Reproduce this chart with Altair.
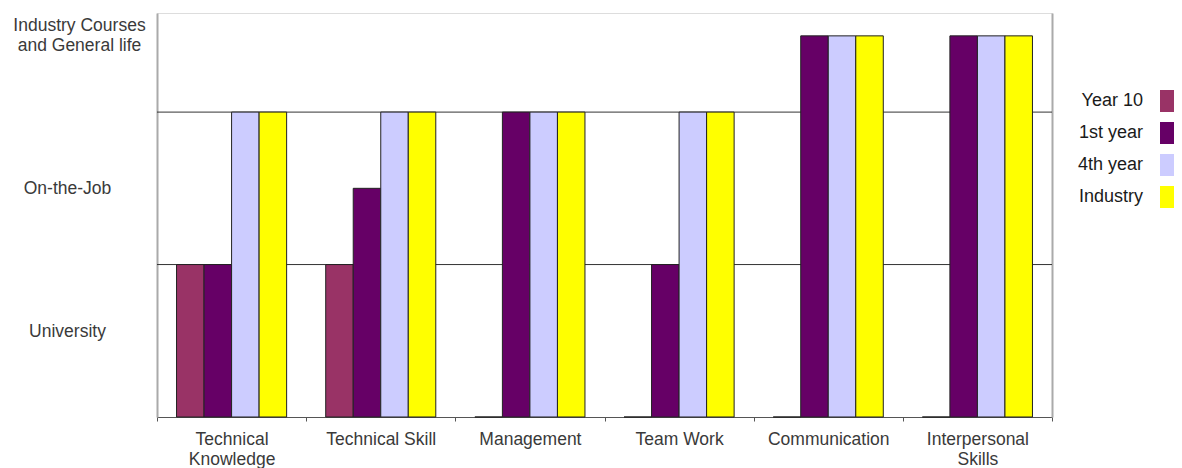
import altair as alt
import pandas as pd

categories = ["Technical Knowledge", "Technical Skill", "Management",
              "Team Work", "Communication", "Interpersonal Skills"]
category_lines = [["Technical", "Knowledge"], ["Technical Skill"], ["Management"],
                  ["Team Work"], ["Communication"], ["Interpersonal", "Skills"]]
series = ["Year 10", "1st year", "4th year", "Industry"]
year10 = [1, 1, 0, 0, 0, 0]
first_year = [1, 1.5, 2, 1, 2.5, 2.5]
fourth_year = [2, 2, 2, 2, 2.5, 2.5]
industry = [2, 2, 2, 2, 2.5, 2.5]
colors = ["#993366", "#660066", "#CCCCFF", "#FFFF00"]
level_labels = [["University"], ["On-the-Job"], ["Industry Courses", "and General life"]]
level_positions = [0.564, 1.5, 2.57]
grid_levels = [1, 2]
y_max = 2.65

rows = []
for s, vals in zip(series, [year10, first_year, fourth_year, industry]):
    for c, v in zip(categories, vals):
        rows.append({"category": c, "series": s, "value": v})
df = pd.DataFrame(rows)
grid_df = pd.DataFrame({"level": grid_levels})


def arr(lines):
    return "[" + ",".join("'" + t + "'" for t in lines) + "]"


x_expr = ""
for c, ln in zip(categories, category_lines):
    x_expr += f"datum.label == '{c}' ? {arr(ln)} : "
x_expr += "''"

y_expr = (f"datum.value < 1 ? {arr(level_labels[0])} : "
          f"datum.value < 2 ? {arr(level_labels[1])} : {arr(level_labels[2])}")

FONT = "Liberation Sans"
yscale = alt.Scale(domain=[0, y_max], nice=False, zero=True)

grid = alt.Chart(grid_df).mark_rule(color="#333333", strokeWidth=1).encode(
    y=alt.Y("level:Q", scale=yscale,
            axis=alt.Axis(orient="right", title=None, labels=False, ticks=False,
                          grid=False, domainColor="#aaaaaa", domainWidth=2))
)

bars = alt.Chart(df).mark_bar(stroke="#222222", strokeWidth=1).encode(
    x=alt.X("category:N", sort=categories,
            scale=alt.Scale(paddingInner=0, paddingOuter=0),
            axis=alt.Axis(title=None, labelAngle=0, tickBand="extent",
                          labelExpr=x_expr, domainColor="#555555", tickColor="#555555",
                          tickSize=4, labelPadding=9, labelFontSize=17.5,
                          labelColor="#3a3a3a", labelFont=FONT, labelLineHeight=20)),
    xOffset=alt.XOffset("series:N", sort=series,
                        scale=alt.Scale(paddingInner=0, paddingOuter=0.71)),
    y=alt.Y("value:Q", scale=yscale,
            axis=alt.Axis(values=level_positions, title=None, ticks=False, grid=False,
                          labelExpr=y_expr, domainColor="#aaaaaa", domainWidth=2,
                          labelAlign="center",
                          labelPadding={"condition": {"test": "datum.value > 2", "value": 78},
                                        "value": 90},
                          labelFontSize=17.5,
                          labelColor="#3a3a3a", labelFont=FONT, labelLineHeight=20)),
    color=alt.Color("series:N", sort=series,
                    scale=alt.Scale(domain=series, range=colors),
                    legend=alt.Legend(title=None, orient="none", legendX=1003, legendY=77,
                                      symbolType="square", symbolSize=484,
                                      symbolStrokeWidth=0, labelAlign="right",
                                      labelOffset={"expr": "-39"}, labelFontSize=18,
                                      labelFont=FONT, labelColor="#1a1a1a", rowPadding=10)),
)

chart = alt.layer(grid, bars).resolve_axis(y="independent").properties(
    width=895, height=404,
    autosize=alt.AutoSizeParams(type="none"),
    padding={"left": 149, "top": 5, "right": 122, "bottom": 51},
).configure_view(stroke=None).configure(background="white")

chart.save("out.html", embed_options={"renderer": "svg", "actions": False})
